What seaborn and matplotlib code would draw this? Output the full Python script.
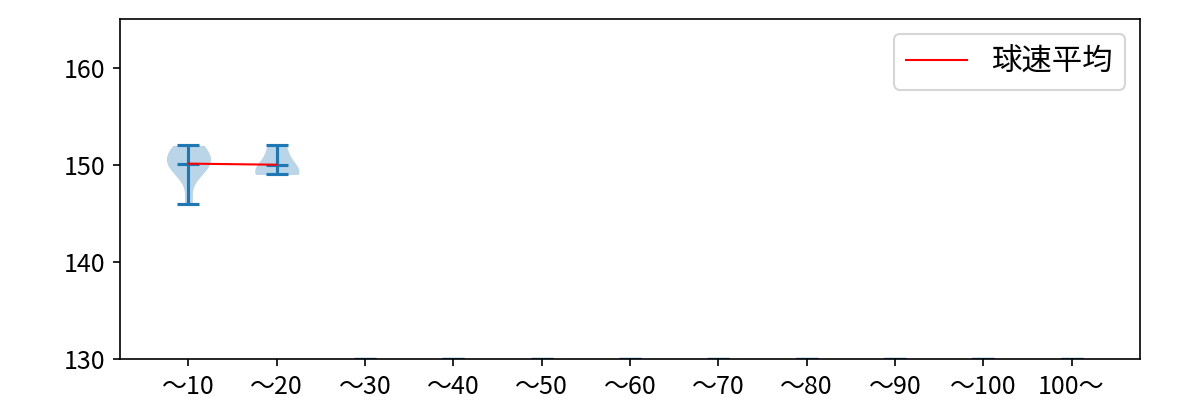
import numpy as np
import pandas as pd
import matplotlib
matplotlib.use("Agg")
import matplotlib.pyplot as plt
import seaborn as sns

plt.rcParams['font.family'] = ['Noto Sans CJK JP', 'DejaVu Sans']

# ---- data ----
bin_labels = ['～10', '～20', '～30', '～40', '～50', '～60', '～70', '～80', '～90', '～100', '100～']
speeds_bin1 = [146, 149, 150, 150, 150, 151, 151, 152, 152]
speeds_bin2 = [149, 149, 150, 152]
empty_bin_value = 130   # bins without pitches sit at the axis floor
legend_label = '球速平均'
y_ticks = [130, 140, 150, 160]

speeds_by_bin = [speeds_bin1, speeds_bin2] + [[] for _ in bin_labels[2:]]

rows = []
for lab, vals in zip(bin_labels, speeds_by_bin):
    for v in vals:
        rows.append({'bin': lab, 'speed': v})
df = pd.DataFrame(rows)

blue = '#1f77b4'
fig = plt.figure(figsize=(8, 8 / 3), dpi=150)
ax = fig.add_axes([0.1, 0.1025, 0.85, 0.85])

sns.violinplot(data=df, x='bin', y='speed', order=bin_labels, inner=None, cut=0,
               bw_method='scott', density_norm='width', width=0.5, color=blue,
               saturation=1, linewidth=0, alpha=0.3, ax=ax)

pos = np.arange(len(bin_labels))
mins, maxs, means = [], [], []
for vals in speeds_by_bin:
    if len(vals):
        mins.append(np.min(vals)); maxs.append(np.max(vals)); means.append(np.mean(vals))
    else:
        mins.append(empty_bin_value); maxs.append(empty_bin_value); means.append(empty_bin_value)
mins, maxs, means = map(np.array, (mins, maxs, means))

cap = 0.125
ax.vlines(pos, mins, maxs, color=blue, lw=1.5, zorder=2)
ax.hlines(maxs, pos - cap, pos + cap, color=blue, lw=1.5, zorder=2)
ax.hlines(mins, pos - cap, pos + cap, color=blue, lw=1.5, zorder=2)
ax.hlines(means, pos - cap, pos + cap, color=blue, lw=1.5, zorder=2)

has = np.array([len(v) > 0 for v in speeds_by_bin])
ax.plot(pos[has], means[has], color='red', lw=1, label=legend_label, zorder=3)

ax.set_xlim(-0.775, 10.775)
ax.set_ylim(130, 165)
ax.set_yticks(y_ticks)
ax.set_xticks(pos)
ax.set_xticklabels(bin_labels)
ax.set_xlabel('')
ax.set_ylabel('')
ax.tick_params(labelsize=12)
ax.legend(loc='upper right', fontsize=14.6)

fig.savefig('out.png', dpi=150)
